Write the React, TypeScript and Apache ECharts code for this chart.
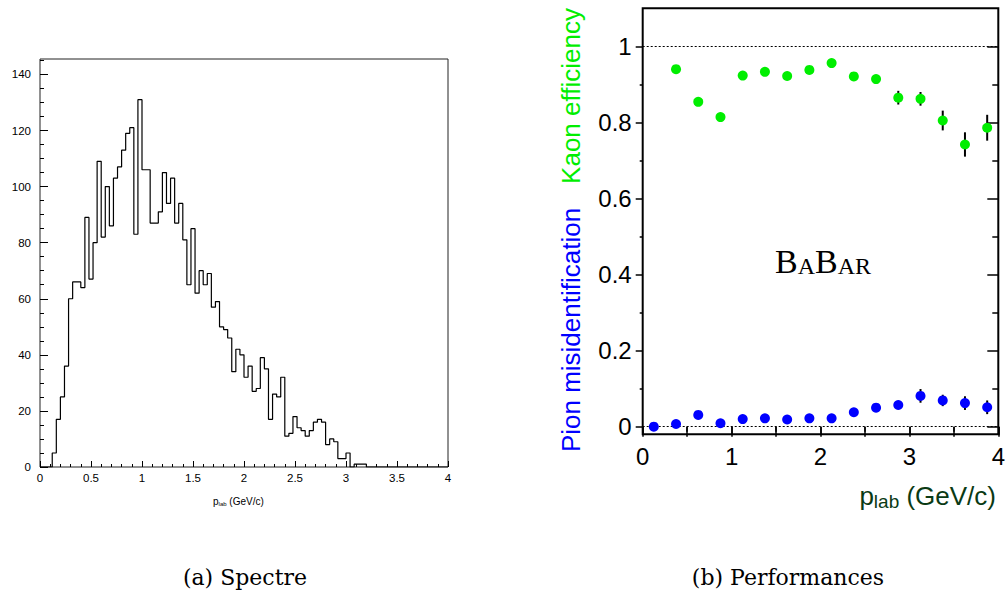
import React, { useEffect, useRef } from "react";
import * as echarts from "echarts";

// ---- Left panel: momentum spectrum (bins of 0.04 GeV/c from 0 to 4) ----
const histBinWidth = 0.04;
const histCounts = [
  0, 0, 0, 5, 17, 25, 36, 60, 66, 66,
  64, 89, 67, 80, 109, 82, 100, 86, 103, 107,
  113, 119, 121, 83, 131, 106, 106, 87, 87, 91,
  105, 94, 103, 87, 94, 81, 65, 85, 62, 70,
  65, 69, 57, 59, 50, 49, 46, 34, 42, 40,
  32, 36, 27, 28, 39, 35, 17, 26, 25, 32,
  11, 12, 18, 14, 13, 11, 13, 16, 17, 16,
  8, 10, 9, 3, 3, 5, 0, 1, 1, 1,
  0, 0, 0, 0, 0, 0, 0, 0, 0, 0,
  0, 0, 0, 0, 0, 0, 0, 0, 0, 0,
];
const leftYMajor = [0, 20, 40, 60, 80, 100, 120, 140];
const leftYMinor = [5, 10, 15, 25, 30, 35, 45, 50, 55, 65, 70, 75, 85, 90, 95, 105, 110, 115, 125, 130, 135, 145];

// ---- Right panel: performances ----
const kaonP = [0.375, 0.625, 0.875, 1.125, 1.375, 1.625, 1.875, 2.125, 2.375, 2.625, 2.875, 3.125, 3.375, 3.625, 3.875];
const kaonEff = [0.940, 0.854, 0.814, 0.923, 0.933, 0.922, 0.938, 0.956, 0.921, 0.914, 0.865, 0.862, 0.805, 0.742, 0.786];
const kaonErr = [0.006, 0.007, 0.007, 0.006, 0.006, 0.006, 0.006, 0.006, 0.007, 0.009, 0.018, 0.018, 0.026, 0.032, 0.034];

const pionP = [0.125, 0.375, 0.625, 0.875, 1.125, 1.375, 1.625, 1.875, 2.125, 2.375, 2.625, 2.875, 3.125, 3.375, 3.625, 3.875];
const pionMis = [0.000, 0.007, 0.031, 0.009, 0.020, 0.022, 0.019, 0.022, 0.022, 0.038, 0.050, 0.057, 0.081, 0.069, 0.062, 0.051];
const pionErr = [0.003, 0.003, 0.004, 0.003, 0.003, 0.003, 0.003, 0.004, 0.004, 0.005, 0.007, 0.009, 0.018, 0.015, 0.018, 0.018];

const rightYMajor = [0, 0.2, 0.4, 0.6, 0.8, 1];
const rightYMinor = [0.1, 0.3, 0.5, 0.7, 0.9];
const refLines = [1, 0];

const SANS = "Liberation Sans";

export default function App() {
  const ref = useRef<HTMLDivElement>(null);

  useEffect(() => {
    if (!ref.current) return;
    const chart = echarts.init(ref.current, null, { renderer: "svg" });

    const histLine: number[][] = [];
    histCounts.forEach((v, k) => {
      histLine.push([k * histBinWidth, v]);
      histLine.push([(k + 1) * histBinWidth, v]);
    });

    const errItem = (params: any, api: any) => {
      const x = api.value(0);
      const y = api.value(1);
      const e = api.value(2);
      const p1 = api.coord([x, y - e]);
      const p2 = api.coord([x, y + e]);
      return {
        type: "line",
        shape: { x1: p1[0], y1: p1[1], x2: p2[0], y2: p2[1] },
        style: { stroke: "#000", lineWidth: 2 },
      };
    };

    const fmt = (v: number) => String(Number(v.toFixed(2)));

    const option: any = {
      animation: false,
      backgroundColor: "#fff",
      textStyle: { fontFamily: SANS },
      grid: [
        { left: 40, top: 59, width: 408, height: 408, show: true, borderColor: "#222", borderWidth: 1, containLabel: false, outerBoundsMode: "none" },
        { left: 642.7, top: 8.3, width: 355.6, height: 426, show: true, borderColor: "#000", borderWidth: 2, containLabel: false, outerBoundsMode: "none" },
      ],
      xAxis: [
        {
          gridIndex: 0, type: "value", min: 0, max: 4, interval: 0.5,
          axisLine: { show: false },
          axisTick: { inside: true, length: 6, lineStyle: { color: "#000", width: 1 } },
          minorTick: { show: true, splitNumber: 5, length: 3, lineStyle: { color: "#000", width: 1 } },
          axisLabel: { fontSize: 11.5, color: "#000", margin: 5, fontFamily: SANS },
          splitLine: { show: false },
        },
        {
          gridIndex: 1, type: "value", position: "bottom", min: 0, max: 4, interval: 1,
          axisLine: { show: false },
          axisTick: { inside: false, length: 8, lineStyle: { color: "#000", width: 1.5 } },
          minorTick: { show: true, splitNumber: 2, length: 5, lineStyle: { color: "#000", width: 1.5 } },
          axisLabel: { fontSize: 24, color: "#000", margin: 10, fontFamily: SANS },
          splitLine: { show: false },
        },
        {
          gridIndex: 1, type: "value", position: "top", min: 0, max: 4, interval: 0.5,
          axisLine: { show: false },
          axisTick: { inside: true, length: 10, lineStyle: { color: "#000", width: 1.5 } },
          axisLabel: { show: false },
          splitLine: { show: false },
        },
      ],
      yAxis: [
        {
          gridIndex: 0, type: "value", position: "left", min: 0, max: 145.5,
          axisLine: { show: false },
          axisTick: { inside: true, length: 8, customValues: leftYMajor, lineStyle: { color: "#000", width: 1 } },
          axisLabel: { customValues: leftYMajor, fontSize: 11.5, color: "#000", margin: 9, fontFamily: SANS },
          splitLine: { show: false },
        },
        {
          gridIndex: 0, type: "value", position: "left", min: 0, max: 145.5,
          axisLine: { show: false },
          axisTick: { inside: true, length: 4, customValues: leftYMinor, lineStyle: { color: "#000", width: 1 } },
          axisLabel: { show: false },
          splitLine: { show: false },
        },
        {
          gridIndex: 1, type: "value", position: "left", min: -0.02, max: 1.1,
          axisLine: { show: false },
          axisTick: { inside: false, length: 7, customValues: rightYMajor, lineStyle: { color: "#000", width: 1.5 } },
          axisLabel: { customValues: rightYMajor, fontSize: 24, color: "#000", margin: 11, fontFamily: SANS, formatter: fmt },
          splitLine: { show: false },
        },
        {
          gridIndex: 1, type: "value", position: "left", min: -0.02, max: 1.1,
          axisLine: { show: false },
          axisTick: { inside: false, length: 3, customValues: rightYMinor, lineStyle: { color: "#000", width: 1.5 } },
          axisLabel: { show: false },
          splitLine: { show: false },
        },
        {
          gridIndex: 1, type: "value", position: "right", min: -0.02, max: 1.1,
          axisLine: { show: false },
          axisTick: { inside: true, length: 11, customValues: rightYMajor, lineStyle: { color: "#000", width: 1.5 } },
          axisLabel: { show: false },
          splitLine: { show: false },
        },
        {
          gridIndex: 1, type: "value", position: "right", min: -0.02, max: 1.1,
          axisLine: { show: false },
          axisTick: { inside: true, length: 6, customValues: rightYMinor, lineStyle: { color: "#000", width: 1.5 } },
          axisLabel: { show: false },
          splitLine: { show: false },
        },
      ],
      series: [
        {
          type: "line", xAxisIndex: 0, yAxisIndex: 0, data: histLine,
          showSymbol: false, symbol: "none",
          lineStyle: { color: "#000", width: 1.2 },
          silent: true, z: 3,
        },
        {
          type: "line", xAxisIndex: 1, yAxisIndex: 2, data: [],
          markLine: {
            silent: true, symbol: "none",
            label: { show: false },
            lineStyle: { color: "#000", width: 1.2, type: [2, 2] },
            data: refLines.map((v) => ({ yAxis: v })),
          },
          z: 1,
        },
        {
          type: "custom", xAxisIndex: 1, yAxisIndex: 2,
          data: kaonP.map((p, i) => [p, kaonEff[i], kaonErr[i]]),
          encode: { x: 0, y: 1 },
          renderItem: errItem, silent: true, z: 1,
        },
        {
          type: "custom", xAxisIndex: 1, yAxisIndex: 2,
          data: pionP.map((p, i) => [p, pionMis[i], pionErr[i]]),
          encode: { x: 0, y: 1 },
          renderItem: errItem, silent: true, z: 1,
        },
        {
          type: "scatter", xAxisIndex: 1, yAxisIndex: 2,
          data: kaonP.map((p, i) => [p, kaonEff[i]]),
          symbol: "circle", symbolSize: 10,
          itemStyle: { color: "#00ee00", opacity: 1, borderWidth: 0 }, z: 10,
        },
        {
          type: "scatter", xAxisIndex: 1, yAxisIndex: 2,
          data: pionP.map((p, i) => [p, pionMis[i]]),
          symbol: "circle", symbolSize: 10,
          itemStyle: { color: "#0000ff", opacity: 1, borderWidth: 0 }, z: 10,
        },
      ],
      graphic: [
        {
          type: "text", left: 213, top: 496,
          style: {
            text: "{p|p}{s|lab}{p| (GeV/c)}",
            fill: "#000",
            rich: {
              p: { fontSize: 10, fontFamily: SANS, lineHeight: 12, verticalAlign: "middle" },
              s: { fontSize: 6, fontFamily: SANS, lineHeight: 8, verticalAlign: "bottom" },
            },
          },
        },
        {
          type: "text", x: 996, y: 496,
          style: {
            text: "{p|p}{s|lab}{p| (GeV/c)}",
            fill: "#0a3a14",
            align: "right", verticalAlign: "middle",
            rich: {
              p: { fontSize: 26, fontFamily: SANS, lineHeight: 30, verticalAlign: "middle", fill: "#0a3a14" },
              s: { fontSize: 19, fontFamily: SANS, lineHeight: 18, verticalAlign: "bottom", fill: "#0a3a14" },
            },
          },
        },
        {
          type: "text", x: 571, y: 96, rotation: Math.PI / 2,
          style: { text: "Kaon efficiency", fill: "#00ee00", fontSize: 26, fontFamily: SANS, align: "center", verticalAlign: "middle" },
        },
        {
          type: "text", x: 571, y: 330, rotation: Math.PI / 2,
          style: { text: "Pion misidentification", fill: "#0000ff", fontSize: 26, fontFamily: SANS, align: "center", verticalAlign: "middle" },
        },
        {
          type: "text", x: 775, y: 261,
          style: {
            text: "{b|B}{a|A}{b|B}{a|AR}",
            fill: "#000",
            align: "left", verticalAlign: "middle",
            rich: {
              b: { fontSize: 34, fontFamily: "Liberation Serif", lineHeight: 34, verticalAlign: "bottom", fill: "#000" },
              a: { fontSize: 24, fontFamily: "Liberation Serif", lineHeight: 27, verticalAlign: "bottom", fill: "#000" },
            },
          },
        },
        {
          type: "text", x: 245, y: 577,
          style: { text: "(a) Spectre", fill: "#000", fontSize: 22, fontFamily: "DejaVu Serif", align: "center", verticalAlign: "middle" },
        },
        {
          type: "text", x: 788, y: 577,
          style: { text: "(b) Performances", fill: "#000", fontSize: 22, fontFamily: "DejaVu Serif", align: "center", verticalAlign: "middle" },
        },
      ],
    };

    chart.setOption(option);
    return () => chart.dispose();
  }, []);

  return (
    <div
      ref={ref}
      style={{ position: "fixed", left: 0, top: 0, width: 1006, height: 595, background: "#fff" }}
    />
  );
}
